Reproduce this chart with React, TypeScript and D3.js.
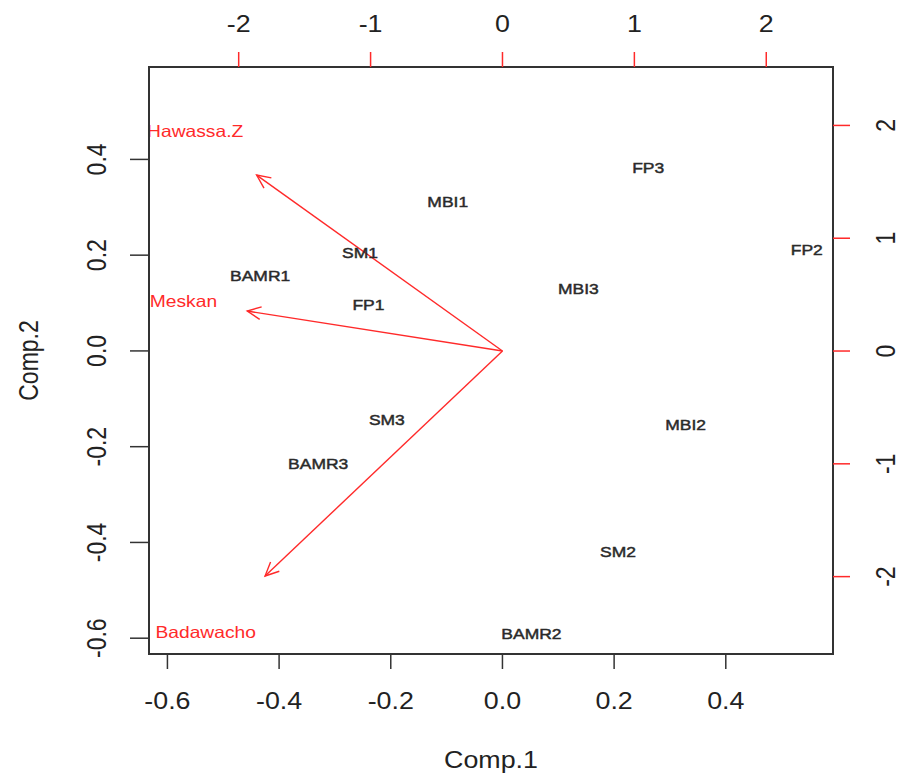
import React from "react";
import { scaleLinear } from "d3";

// observation scores (Comp.1, Comp.2)
const scoreLabels = ["MBI1", "SM1", "BAMR1", "FP1", "FP3", "FP2", "MBI3", "SM3", "BAMR3", "MBI2", "SM2", "BAMR2"];
const comp1 = [-0.098, -0.255, -0.434, -0.24, 0.261, 0.545, 0.136, -0.207, -0.33, 0.328, 0.207, 0.052];
const comp2 = [0.313, 0.205, 0.157, 0.098, 0.383, 0.212, 0.131, -0.144, -0.236, -0.153, -0.418, -0.591];

// variable loadings (drawn on the top/right axes)
const varLabels = ["Hawassa.Z", "Meskan", "Badawacho"];
const load1 = [-2.33, -2.419, -2.25];
const load2 = [1.95, 0.443, -2.493];

const bottomTicks = [-0.6, -0.4, -0.2, 0.0, 0.2, 0.4];
const leftTicks = [-0.6, -0.4, -0.2, 0.0, 0.2, 0.4];
const topTicks = [-2, -1, 0, 1, 2];
const rightTicks = [-2, -1, 0, 1, 2];

const W = 899;
const H = 776;
const left = 149, right = 833, top = 67, bottom = 654;
const SX = 1.166; // horizontal stretch of the original image
const RED = "#ff2a2a";
const FONT = "'Liberation Sans', Arial, sans-serif";

export default function App() {
  const x = scaleLinear().domain([-0.633, 0.592]).range([left, right]);
  const y = scaleLinear().domain([-0.633, 0.593]).range([bottom, top]);
  const x2 = scaleLinear().domain([-2.68, 2.506]).range([left, right]);
  const y2 = scaleLinear().domain([-2.686, 2.518]).range([bottom, top]);

  const hText = (tx: number, ty: number, s: string, size: number, fill: string, key?: any, sw = 0) => (
    <text
      key={key}
      transform={`translate(${tx},${ty}) scale(${SX},1)`}
      textAnchor="middle"
      dominantBaseline="central"
      fontSize={size}
      fill={fill}
      stroke={sw ? fill : "none"}
      strokeWidth={sw}
    >
      {s}
    </text>
  );
  const vText = (tx: number, ty: number, s: string, size: number, fill: string, key?: any) => (
    <text
      key={key}
      transform={`translate(${tx},${ty}) rotate(-90) scale(1,${SX})`}
      textAnchor="middle"
      dominantBaseline="central"
      fontSize={size}
      fill={fill}
    >
      {s}
    </text>
  );

  const fmt = (v: number) => v.toFixed(1);
  const ox = x2(0), oy = y2(0);

  return (
    <svg
      width={W}
      height={H}
      style={{ position: "absolute", left: 0, top: 0, background: "#fff" }}
      fontFamily={FONT}
    >
      <rect width={W} height={H} fill="#fff" />

      {/* arrows for loadings (to 0.8 of the variable position) */}
      {varLabels.map((v, i) => {
        const tx = x2(load1[i] * 0.8);
        const ty = y2(load2[i] * 0.8);
        const ang = Math.atan2(ty - oy, tx - ox);
        const len = 15;
        const a = (25 * Math.PI) / 180;
        const h1 = [tx - len * Math.cos(ang - a), ty - len * Math.sin(ang - a)];
        const h2 = [tx - len * Math.cos(ang + a), ty - len * Math.sin(ang + a)];
        return (
          <g key={v} stroke={RED} strokeWidth={1.4} fill="none">
            <line x1={ox} y1={oy} x2={tx} y2={ty} />
            <polyline points={`${h1[0]},${h1[1]} ${tx},${ty} ${h2[0]},${h2[1]}`} />
          </g>
        );
      })}

      {/* score labels */}
      {scoreLabels.map((s, i) => hText(x(comp1[i]), y(comp2[i]), s, 15, "#2a2a2a", s, 0.45))}

      {/* variable labels */}
      {varLabels.map((v, i) => hText(x2(load1[i]), y2(load2[i]), v, 16.5, RED, v))}

      {/* box */}
      <rect x={left} y={top} width={right - left} height={bottom - top} fill="none" stroke="#333" strokeWidth={2} />

      {/* bottom axis */}
      {bottomTicks.map((t) => (
        <g key={"b" + t}>
          <line x1={x(t)} x2={x(t)} y1={bottom} y2={bottom + 15} stroke="#333" strokeWidth={1.5} />
          {hText(x(t), 701, fmt(t), 23, "#222")}
        </g>
      ))}
      {/* left axis */}
      {leftTicks.map((t) => (
        <g key={"l" + t}>
          <line x1={left} x2={left - 19} y1={y(t)} y2={y(t)} stroke="#333" strokeWidth={1.5} />
          {vText(96, y(t), fmt(t), 23, "#222")}
        </g>
      ))}
      {/* top axis */}
      {topTicks.map((t) => (
        <g key={"t" + t}>
          <line x1={x2(t)} x2={x2(t)} y1={top} y2={top - 15} stroke={RED} strokeWidth={1.5} />
          {hText(x2(t), 24, String(t), 23, "#222")}
        </g>
      ))}
      {/* right axis */}
      {rightTicks.map((t) => (
        <g key={"r" + t}>
          <line x1={right} x2={right + 17} y1={y2(t)} y2={y2(t)} stroke={RED} strokeWidth={1.5} />
          {vText(885, y2(t), String(t), 23, "#222")}
        </g>
      ))}

      {/* axis titles */}
      {hText((left + right) / 2, 760, "Comp.1", 23, "#222")}
      {vText(28, (top + bottom) / 2, "Comp.2", 23, "#222")}
    </svg>
  );
}
